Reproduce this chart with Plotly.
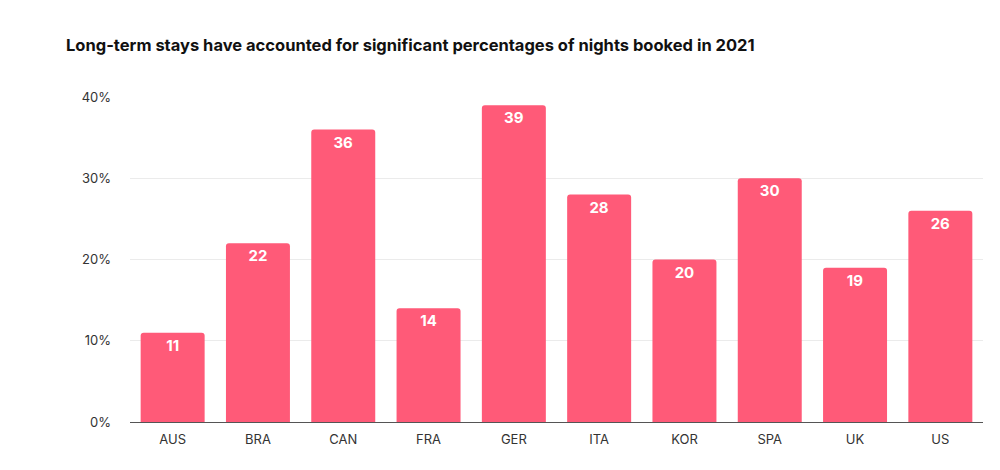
import plotly.graph_objects as go

countries = ["AUS", "BRA", "CAN", "FRA", "GER", "ITA", "KOR", "SPA", "UK", "US"]
shares = [11, 22, 36, 14, 39, 28, 20, 30, 19, 26]
tick_vals = [0, 10, 20, 30, 40]
tick_text = ["0%", "10%", "20%", "30%", "40%"]

fig = go.Figure(go.Bar(
    x=countries, y=shares,
    text=["<b>%d</b>" % v for v in shares],
    textposition="inside", insidetextanchor="end",
    textfont=dict(color="white", size=15, family="Inter"),
    marker=dict(color="#FF5A78", line=dict(width=0)),
    marker_cornerradius=3,
))

fig.update_layout(
    width=1000, height=470,
    margin=dict(l=122, r=25, t=89, b=56),
    plot_bgcolor="white", paper_bgcolor="white",
    bargap=0.25,
    showlegend=False,
    font=dict(family="Inter", color="#222222", size=13),
    title=dict(text="<b>Long-term stays have accounted for significant percentages of nights booked in 2021</b>",
               x=0.058, xanchor="left", y=0.92, yanchor="middle",
               font=dict(size=16.5, color="#111111")),
)
fig.update_yaxes(range=[0, 40], tickvals=tick_vals, ticktext=tick_text,
                 gridcolor="#EBEBEB", zeroline=True, zerolinecolor="#555555",
                 zerolinewidth=1, ticks="", ticklabelstandoff=18,
                 tickfont=dict(size=13, color="#333333"))
fig.update_xaxes(showline=False, ticks="", ticklabelstandoff=8,
                 tickfont=dict(size=13, color="#333333"))

fig.write_html("out.html")
